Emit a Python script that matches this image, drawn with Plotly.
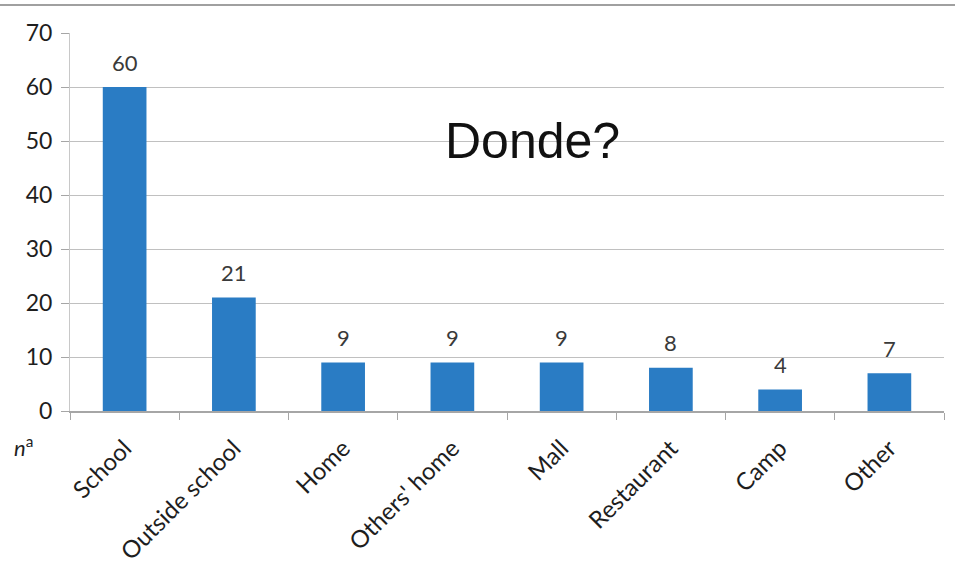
import plotly.graph_objects as go

categories = ["School", "Outside school", "Home", "Others' home", "Mall",
              "Restaurant", "Camp", "Other"]
counts = [60, 21, 9, 9, 9, 8, 4, 7]
y_ticks = [0, 10, 20, 30, 40, 50, 60, 70]

BAR = "#2a7cc4"
AXIS = "#a6a6a6"
FONT = "Lato, 'Open Sans', sans-serif"
TXT = "#1e1e1e"

fig = go.Figure(
    go.Bar(
        x=categories,
        y=counts,
        width=0.4,
        marker=dict(color=BAR, line=dict(width=0)),
        hoverinfo="x+y",
    )
)

# value labels above each bar
value_labels = [
    dict(x=c, y=v, xref="x", yref="y", text=str(v), showarrow=False,
         yanchor="middle", yshift=25,
         font=dict(family=FONT, size=22, color="#3a3a3a"))
    for c, v in zip(categories, counts)
]

fig.update_layout(
    width=955,
    height=568,
    margin=dict(l=70, r=11, t=33, b=157),
    paper_bgcolor="white",
    plot_bgcolor="white",
    showlegend=False,
    font=dict(family=FONT, size=22, color=TXT),
    xaxis=dict(
        automargin=False,
        tickangle=-45,
        tickson="boundaries",
        ticks="outside",
        ticklen=7,
        tickcolor=AXIS,
        ticklabelstandoff=12,
        showline=True,
        linecolor=AXIS,
        linewidth=1.5,
        showgrid=False,
        tickfont=dict(family=FONT, size=24, color=TXT),
    ),
    yaxis=dict(
        automargin=False,
        range=[0, 70],
        tickvals=y_ticks,
        ticks="outside",
        ticklen=8,
        tickcolor=AXIS,
        ticklabelstandoff=4,
        showline=True,
        linecolor="#c8c8c8",
        linewidth=1,
        showgrid=True,
        gridcolor="#c0c0c0",
        gridwidth=1.2,
        zeroline=False,
        tickfont=dict(family=FONT, size=23, color=TXT),
    ),
    shapes=[
        dict(type="line", xref="paper", yref="paper",
             x0=-0.085, x1=1.02, y0=1.074, y1=1.074,
             line=dict(color="#a0a0a0", width=2)),
    ],
    annotations=value_labels + [
        dict(text="Donde?", xref="paper", yref="paper", x=0.529, y=0.714,
             showarrow=False, xanchor="center", yanchor="middle",
             font=dict(family="'Liberation Sans', Arial, sans-serif",
                       size=50, color="#111111")),
        dict(text="<i>n</i><sup>a</sup>", xref="paper", yref="paper",
             x=-0.04, y=-0.095, showarrow=False, xanchor="right",
             yanchor="middle",
             font=dict(family=FONT, size=22, color=TXT)),
    ],
)

fig.write_html("out.html")
